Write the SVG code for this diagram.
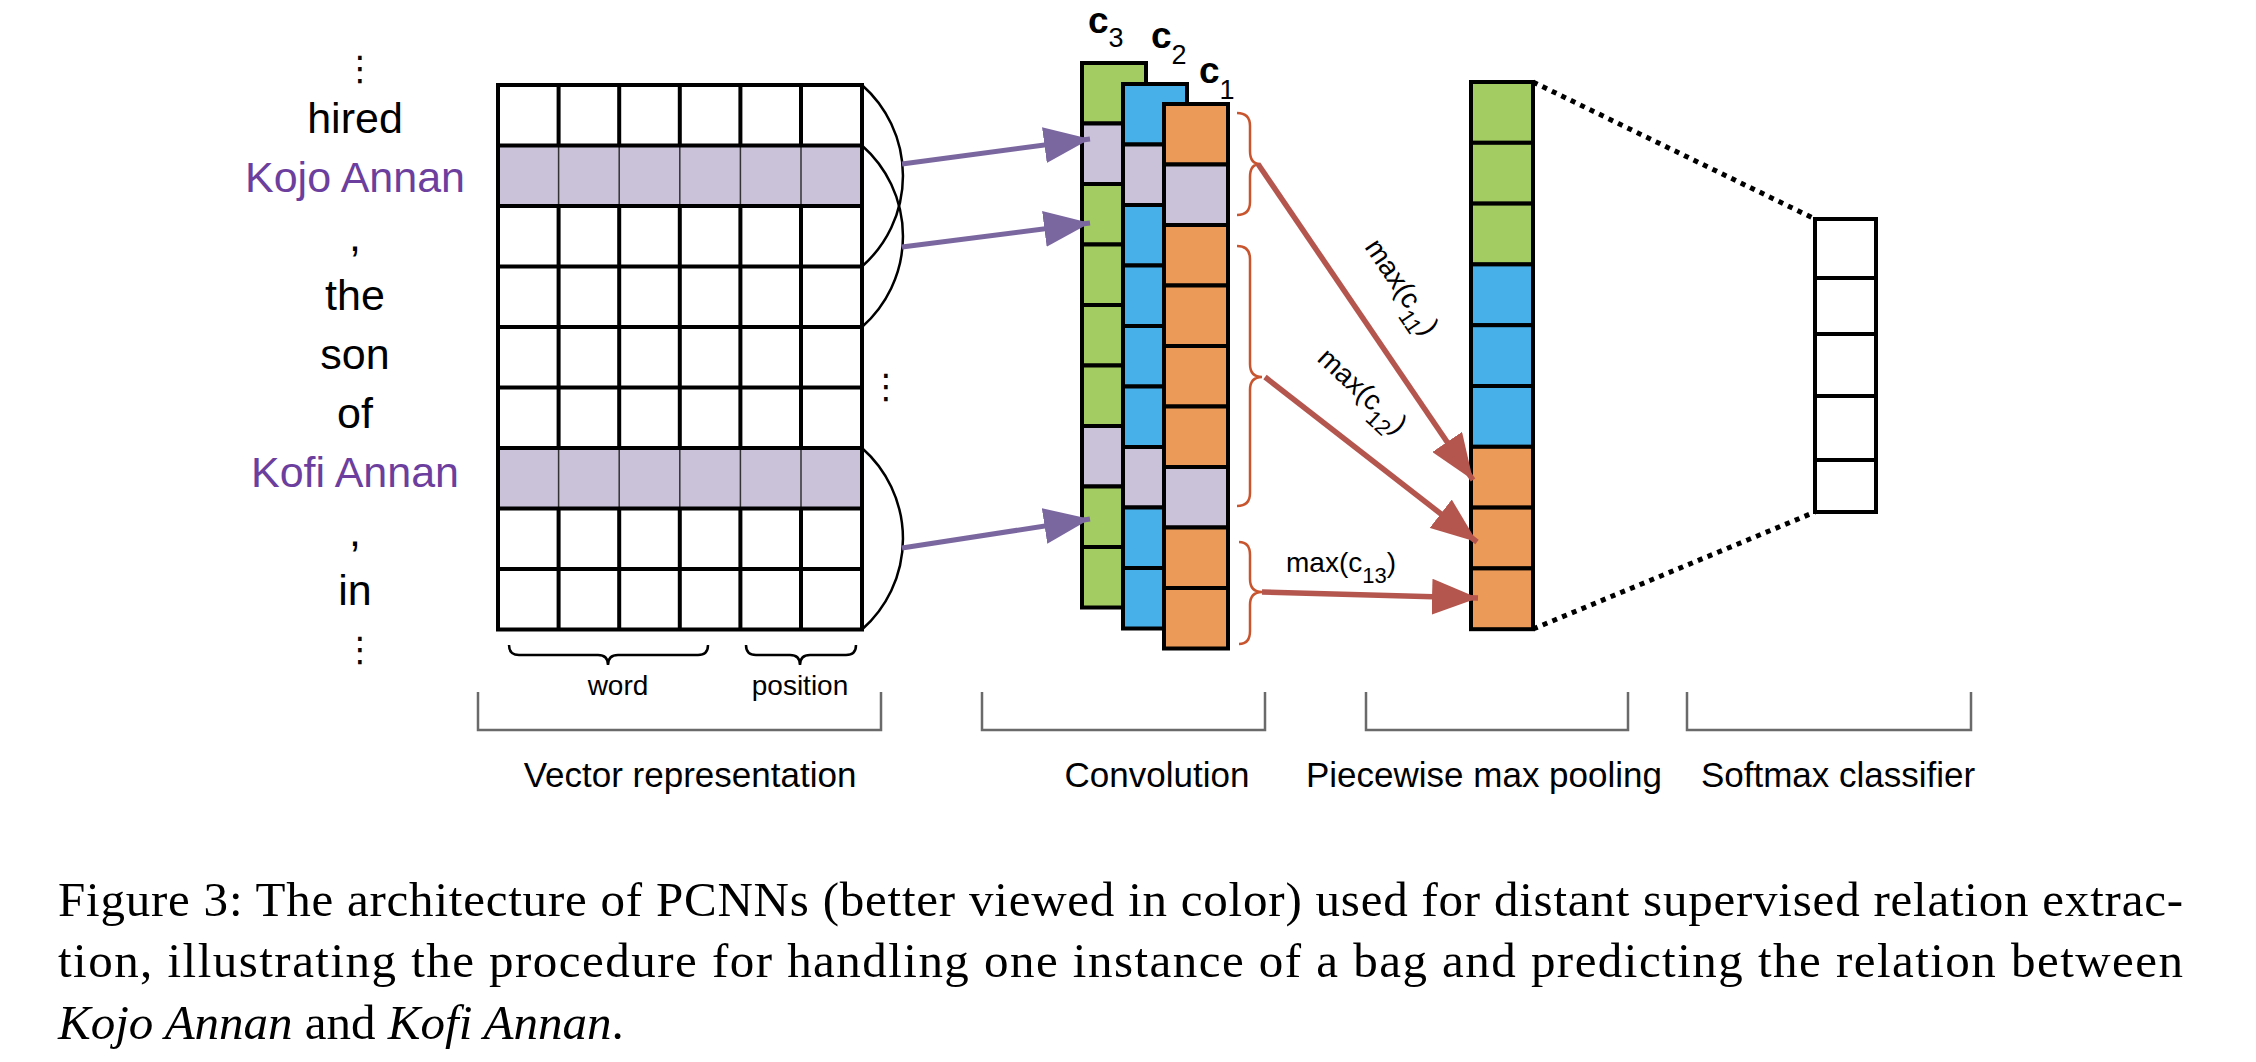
<svg xmlns="http://www.w3.org/2000/svg" width="2256" height="1062" viewBox="0 0 2256 1062">
<style>
.w{font-family:"Liberation Sans",Arial,sans-serif;font-size:43px;text-anchor:middle;fill:#000}
.ent{fill:#6C3F9E}
.dots{font-family:"DejaVu Sans",sans-serif;font-size:34px;text-anchor:middle;fill:#000}
.gl{stroke:#000;stroke-width:4;fill:none}
.thin{stroke:#333;stroke-width:1.5}
.sh{fill:#C9C2D9}
.g{fill:#A3CC63;stroke:#000;stroke-width:4}
.b{fill:#48B0E8;stroke:#000;stroke-width:4}
.o{fill:#EC9A57;stroke:#000;stroke-width:4}
.l{fill:#C9C2D9;stroke:#000;stroke-width:4}
.e{fill:#fff;stroke:#000;stroke-width:4}
.lab{font-family:"Liberation Sans",Arial,sans-serif;font-size:35px;text-anchor:middle;fill:#000}
.sm{font-family:"Liberation Sans",Arial,sans-serif;font-size:28px;text-anchor:middle;fill:#000}
.mx{font-family:"Liberation Sans",Arial,sans-serif;font-size:28px;fill:#000}
.cl{font-family:"Liberation Sans",Arial,sans-serif;font-size:37px;font-weight:bold;fill:#000}
.sub{font-size:27px;font-weight:normal}
.brk{stroke:#6a6a6a;stroke-width:2.5;fill:none}
.br{stroke:#000;stroke-width:2.5;fill:none}
.rb{stroke:#C8552E;stroke-width:2.5;fill:none}
.pa{stroke:#7B67A0;stroke-width:5;fill:none;marker-end:url(#hp)}
.ra{stroke:#B5564E;stroke-width:5.5;fill:none;marker-end:url(#hr)}
.dot{stroke:#000;stroke-width:5;fill:none;stroke-dasharray:5 5.5}
.cap{font-family:"Liberation Serif","Times New Roman",serif;font-size:49px;fill:#000}
</style>
<defs>
<marker id="hp" markerUnits="userSpaceOnUse" markerWidth="46" markerHeight="36" refX="46" refY="18" orient="auto" viewBox="0 0 46 36"><path d="M0,0 L46,18 L0,36 z" fill="#7B67A0"/></marker>
<marker id="hr" markerUnits="userSpaceOnUse" markerWidth="46" markerHeight="36" refX="46" refY="18" orient="auto" viewBox="0 0 46 36"><path d="M0,0 L46,18 L0,36 z" fill="#B5564E"/></marker>
</defs>
<rect width="2256" height="1062" fill="#fff"/>

<g id="words">
<text class="dots" x="360" y="80">⋮</text>
<text class="w" x="355" y="133">hired</text>
<text class="w ent" x="355" y="192">Kojo Annan</text>
<text class="w" x="355" y="251">,</text>
<text class="w" x="355" y="310">the</text>
<text class="w" x="355" y="369">son</text>
<text class="w" x="355" y="428">of</text>
<text class="w ent" x="355" y="487">Kofi Annan</text>
<text class="w" x="355" y="546">,</text>
<text class="w" x="355" y="605">in</text>
<text class="dots" x="360" y="661">⋮</text>
</g>

<g id="vector-grid">
<rect class="sh" x="498" y="145.5" width="364" height="60.5"/>
<rect class="sh" x="498" y="448" width="364" height="60.5"/>
<path class="thin" d="M558.6,145.5V206M619.2,145.5V206M679.8,145.5V206M740.4,145.5V206M801,145.5V206M558.6,448V508.5M619.2,448V508.5M679.8,448V508.5M740.4,448V508.5M801,448V508.5"/>
<path class="gl" d="M496,85H864M496,145.5H864M496,206H864M496,266.5H864M496,327H864M496,387.5H864M496,448H864M496,508.5H864M496,569H864M496,629.5H864"/>
<path class="gl" d="M498,85V629.5M862,85V629.5M558.6,85V145.5M619.2,85V145.5M679.8,85V145.5M740.4,85V145.5M801,85V145.5M558.6,206V448M619.2,206V448M679.8,206V448M740.4,206V448M801,206V448M558.6,508.5V629.5M619.2,508.5V629.5M679.8,508.5V629.5M740.4,508.5V629.5M801,508.5V629.5"/>
<text class="dots" x="886" y="398">⋮</text>
</g>

<g id="conv-c3">
<rect class="g" x="1082" y="63" width="64" height="60.5"/>
<rect class="l" x="1082" y="123.5" width="64" height="60.5"/>
<rect class="g" x="1082" y="184" width="64" height="60.5"/>
<rect class="g" x="1082" y="244.5" width="64" height="60.5"/>
<rect class="g" x="1082" y="305" width="64" height="60.5"/>
<rect class="g" x="1082" y="365.5" width="64" height="60.5"/>
<rect class="l" x="1082" y="426" width="64" height="60.5"/>
<rect class="g" x="1082" y="486.5" width="64" height="60.5"/>
<rect class="g" x="1082" y="547" width="64" height="60.5"/>
<text class="cl" x="1088" y="33">c<tspan class="sub" dy="14">3</tspan></text>
</g>
<g id="conv-c2">
<rect class="b" x="1123" y="84" width="64" height="60.5"/>
<rect class="l" x="1123" y="144.5" width="64" height="60.5"/>
<rect class="b" x="1123" y="205" width="64" height="60.5"/>
<rect class="b" x="1123" y="265.5" width="64" height="60.5"/>
<rect class="b" x="1123" y="326" width="64" height="60.5"/>
<rect class="b" x="1123" y="386.5" width="64" height="60.5"/>
<rect class="l" x="1123" y="447" width="64" height="60.5"/>
<rect class="b" x="1123" y="507.5" width="64" height="60.5"/>
<rect class="b" x="1123" y="568" width="64" height="60.5"/>
<text class="cl" x="1151" y="48">c<tspan class="sub" dy="16">2</tspan></text>
</g>
<g id="conv-c1">
<rect class="o" x="1164" y="104" width="64" height="60.5"/>
<rect class="l" x="1164" y="164.5" width="64" height="60.5"/>
<rect class="o" x="1164" y="225" width="64" height="60.5"/>
<rect class="o" x="1164" y="285.5" width="64" height="60.5"/>
<rect class="o" x="1164" y="346" width="64" height="60.5"/>
<rect class="o" x="1164" y="406.5" width="64" height="60.5"/>
<rect class="l" x="1164" y="467" width="64" height="60.5"/>
<rect class="o" x="1164" y="527.5" width="64" height="60.5"/>
<rect class="o" x="1164" y="588" width="64" height="60.5"/>
<text class="cl" x="1199" y="83">c<tspan class="sub" dy="16">1</tspan></text>
</g>

<g id="pooling">
<rect class="g" x="1471" y="82" width="62" height="60.8"/>
<rect class="g" x="1471" y="142.8" width="62" height="60.8"/>
<rect class="g" x="1471" y="203.6" width="62" height="60.8"/>
<rect class="b" x="1471" y="264.4" width="62" height="60.8"/>
<rect class="b" x="1471" y="325.2" width="62" height="60.8"/>
<rect class="b" x="1471" y="386" width="62" height="60.8"/>
<rect class="o" x="1471" y="446.8" width="62" height="60.8"/>
<rect class="o" x="1471" y="507.6" width="62" height="60.8"/>
<rect class="o" x="1471" y="568.4" width="62" height="60.8"/>
</g>

<g id="softmax">
<rect class="e" x="1815" y="219" width="61" height="59"/>
<rect class="e" x="1815" y="278" width="61" height="56"/>
<rect class="e" x="1815" y="334" width="61" height="62"/>
<rect class="e" x="1815" y="396" width="61" height="64"/>
<rect class="e" x="1815" y="460" width="61" height="52"/>
</g>

<g id="connectors">
<path class="br" d="M862,85 A121,121 0 0 1 862,266.5"/>
<path class="br" d="M862,145.5 A121,121 0 0 1 862,327"/>
<path class="br" d="M862,448 A121,121 0 0 1 862,629.5"/>
<line class="pa" x1="902" y1="164" x2="1090" y2="139"/>
<line class="pa" x1="902" y1="247" x2="1090" y2="223"/>
<line class="pa" x1="902" y1="548" x2="1090" y2="519"/>
<path class="rb" d="M1237,113 Q1250,113 1250,126 V151 Q1250,164 1260,164 Q1250,164 1250,177 V202 Q1250,215 1237,215"/>
<path class="rb" d="M1237,246 Q1250,246 1250,259 V364 Q1250,377 1262,377 Q1250,377 1250,390 V493 Q1250,506 1237,506"/>
<path class="rb" d="M1239,542 Q1250,542 1250,555 V579 Q1250,592 1262,592 Q1250,592 1250,605 V631 Q1250,644 1239,644"/>
<line class="ra" x1="1258" y1="164" x2="1473" y2="480"/>
<line class="ra" x1="1265" y1="377" x2="1477" y2="542"/>
<line class="ra" x1="1262" y1="592" x2="1478" y2="598"/>
<line class="dot" x1="1533" y1="82" x2="1815" y2="219"/>
<line class="dot" x1="1533" y1="629" x2="1815" y2="512"/>
</g>

<g id="max-labels">
<text class="mx" transform="translate(1364,247) rotate(56)">max(c<tspan font-size="22" dy="11">11</tspan><tspan dy="-11">)</tspan></text>
<text class="mx" transform="translate(1316,360) rotate(43)">max(c<tspan font-size="22" dy="11">12</tspan><tspan dy="-11">)</tspan></text>
<text class="mx" x="1286" y="572">max(c<tspan font-size="22" dy="11">13</tspan><tspan dy="-11">)</tspan></text>
</g>

<g id="section-labels">
<path class="br" d="M509,645 Q509,655 519,655 H598 Q608,655 608,665 Q608,655 618,655 H698 Q708,655 708,645"/>
<path class="br" d="M746,645 Q746,655 756,655 H790 Q800,655 800,665 Q800,655 810,655 H846 Q856,655 856,645"/>
<text class="sm" x="618" y="695">word</text>
<text class="sm" x="800" y="695">position</text>
<path class="brk" d="M478,692V730H881V692"/>
<path class="brk" d="M982,692V730H1265V692"/>
<path class="brk" d="M1366,692V730H1628V692"/>
<path class="brk" d="M1687,692V730H1971V692"/>
<text class="lab" x="690" y="787">Vector representation</text>
<text class="lab" x="1157" y="787">Convolution</text>
<text class="lab" x="1484" y="787">Piecewise max pooling</text>
<text class="lab" x="1838" y="787">Softmax classifier</text>
</g>

<g id="caption">
<text class="cap" x="58" y="916" textLength="2125" lengthAdjust="spacing">Figure 3: The architecture of PCNNs (better viewed in color) used for distant supervised relation extrac-</text>
<text class="cap" x="58" y="977" textLength="2125" lengthAdjust="spacing">tion, illustrating the procedure for handling one instance of a bag and predicting the relation between</text>
<text class="cap" x="58" y="1039"><tspan font-style="italic">Kojo Annan</tspan> and <tspan font-style="italic">Kofi Annan</tspan>.</text>
</g>
</svg>
